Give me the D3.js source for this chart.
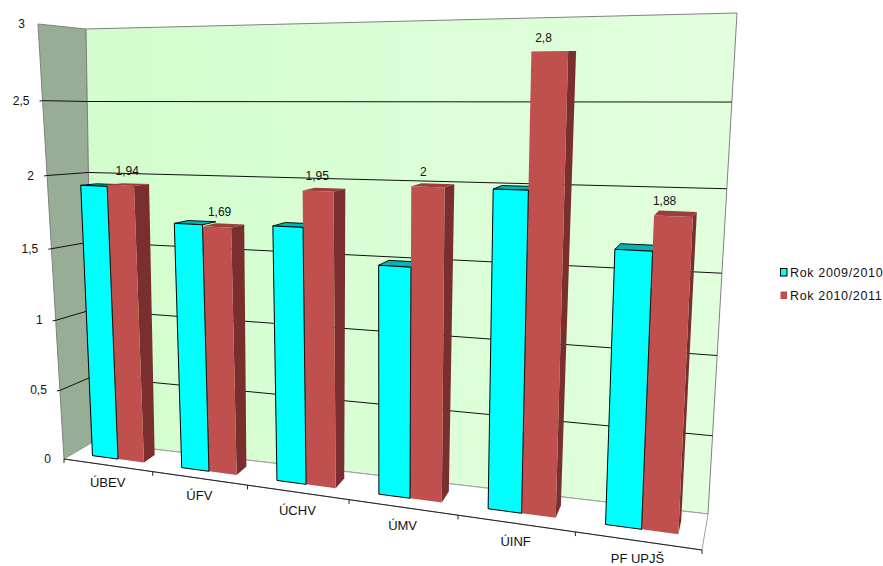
<!DOCTYPE html>
<html><head><meta charset="utf-8">
<script src="https://cdn.jsdelivr.net/npm/d3@7/dist/d3.min.js"></script>
<style>html,body{margin:0;padding:0;background:#fff}svg{display:block}text{font-family:"Liberation Sans",Arial,sans-serif;fill:#111}</style>
</head><body><svg id="c" width="883" height="566"></svg>
<script>
const categories = ["ÚBEV","ÚFV","ÚCHV","ÚMV","ÚINF","PF UPJŠ"];
const seriesNames = ["Rok 2009/2010","Rok 2010/2011"];
const values2009 = [1.93,1.70,1.715,1.5,2.0,1.675];
const values2010 = [1.94,1.69,1.95,2,2.8,1.88];
const labels2010 = ["1,94","1,69","1,95","2","2,8","1,88"];
const yTicks = [0,0.5,1,1.5,2,2.5,3];
const yTickLabels = ["0","0,5","1","1,5","2","2,5","3"];

// camera calibration: unit cube corners -> screen
const calib = [[0,0,0,64,459],[1,0,0,702,550],[0,1,0,38,24],[0,0,1,93,442],[0,1,1,86,29],[1,0,1,708,514],[1,1,1,737,13]];
function solveCamera(pts){
  const R=[],b=[];
  for(const [X,Y,Z,u0,v0] of pts){const u=u0/500,v=v0/500;
    R.push([X,Y,Z,1,0,0,0,0,-u*X,-u*Y,-u*Z]);b.push(u);
    R.push([0,0,0,0,X,Y,Z,1,-v*X,-v*Y,-v*Z]);b.push(v);}
  const n=11,M=d3.range(n).map(i=>d3.range(n+1).map(j=>{
    let s=0;R.forEach((r,k)=>{s+=r[i]*(j<n?r[j]:b[k]);});return s;}));
  for(let i=0;i<n;i++){let p=i;for(let k=i+1;k<n;k++)if(Math.abs(M[k][i])>Math.abs(M[p][i]))p=k;
    [M[i],M[p]]=[M[p],M[i]];
    for(let k=0;k<n;k++)if(k!==i){const f=M[k][i]/M[i][i];for(let j=i;j<=n;j++)M[k][j]-=f*M[i][j];}}
  return M.map((r,i)=>r[n]/r[i]);
}
const P=solveCamera(calib);
const rawProj=(X,Y,Z)=>{const w=P[8]*X+P[9]*Y+P[10]*Z+1;
  return [500*(P[0]*X+P[1]*Y+P[2]*Z+P[3])/w,500*(P[4]*X+P[5]*Y+P[6]*Z+P[7])/w];};
// residual of the fit at each calibrated corner, blended across the cube
const resid=new Map(calib.map(([X,Y,Z,u,v])=>{const p=rawProj(X,Y,Z);return [`${X}${Y}${Z}`,[u-p[0],v-p[1]]];}));
const r=k=>resid.get(k);
resid.set("110",[r("100")[0]+r("010")[0]-r("000")[0],r("100")[1]+r("010")[1]-r("000")[1]]);
const proj=(X,Y,Z)=>{
  const p=rawProj(X,Y,Z);let dx=0,dy=0;
  for(const a of [0,1])for(const b of [0,1])for(const c of [0,1]){
    const w=(a?X:1-X)*(b?Y:1-Y)*(c?Z:1-Z),e=r(`${a}${b}${c}`);dx+=w*e[0];dy+=w*e[1];}
  return [p[0]+dx,p[1]+dy];
};

const xBand=d3.scaleBand().domain(categories).range([0,1]);
const xSeries=d3.scaleBand().domain(seriesNames).range([0.215,0.8]);
const yVal=d3.scaleLinear().domain([0,3]).range([0,1]);
const depth=d3.scaleLinear().domain([0,1]).range([0.33,0.72]);
const labelDrift=d3.scaleLinear().domain([0,0.6,1]).range([2,-9,-11]);
const svg=d3.select("#c");
const line=d3.line();
const poly=(pts)=>line(pts)+"Z";

const defs=svg.append("defs");
const g=defs.append("linearGradient").attr("id","wall").attr("x1",0).attr("x2",1).attr("y1",0).attr("y2",0);
g.append("stop").attr("offset",0).attr("stop-color","#d3fdce");
g.append("stop").attr("offset",1).attr("stop-color","#e2ffdd");

// walls
svg.append("path").attr("d",poly([proj(0,0,0),proj(0,1,0),proj(0,1,1),proj(0,0,1)])).attr("fill","#98ad96").attr("stroke","#808080");
svg.append("path").attr("d",poly([proj(0,0,1),proj(0,1,1),proj(1,1,1),proj(1,0,1)])).attr("fill","url(#wall)").attr("stroke","#808080");
svg.append("path").attr("d",poly([proj(0,0,0),proj(0,0,1),proj(1,0,1),proj(1,0,0)])).attr("fill","#fff").attr("stroke","#a0a0a0");

// gridlines
yTicks.forEach((t,i)=>{
  const y=yVal(t);
  if(t>0&&t<3){
    const a=proj(0,y,0);
    svg.append("path").attr("d",line([[a[0]-3,a[1]+0.5],a,proj(0,y,1),proj(1,y,1)])).attr("fill","none").attr("stroke","#111").attr("stroke-width",1);
  }
  const a=proj(0,y,0);
  svg.append("text").attr("x",a[0]-13).attr("y",a[1]+4).attr("text-anchor","end").attr("font-size",12).text(yTickLabels[i]);
});
// front axis
svg.append("path").attr("d",line([proj(0,0,0),proj(1,0,0)])).attr("fill","none").attr("stroke","#222").attr("stroke-width",1);
categories.forEach((c,i)=>{
  const x=xBand(c)+xBand.bandwidth();
  const a=proj(x,0,0);
  svg.append("path").attr("d",line([a,[a[0],a[1]+4]])).attr("fill","none").attr("stroke","#222");
  const m=proj(xBand(c)+xBand.bandwidth()/2,0,0);
  svg.append("text").attr("x",m[0]).attr("y",m[1]+22).attr("text-anchor","middle").attr("font-size",13).text(c);
});
const a0=proj(0,0,0);
svg.append("path").attr("d",line([a0,[a0[0],a0[1]+4]])).attr("fill","none").attr("stroke","#222");

function box(cat,s,val){
  const b=xBand.bandwidth();
  const x0=xBand(cat)+xSeries(s)*b, x1=x0+xSeries.bandwidth()*b;
  const z0=depth(0),z1=depth(1),y=yVal(val);
  return {front:[proj(x0,0,z0),proj(x0,y,z0),proj(x1,y,z0),proj(x1,0,z0)],
    top:[proj(x0,y,z0),proj(x0,y,z1),proj(x1,y,z1),proj(x1,y,z0)],
    side:[proj(x1,0,z0),proj(x1,y,z0),proj(x1,y,z1),proj(x1,0,z1)]};
}
const face=(pts,fill,stroke)=>svg.append("path").attr("d",poly(pts)).attr("fill",fill).attr("stroke",stroke||"none").attr("stroke-linejoin","round");
categories.forEach((c,i)=>{
  const bl=box(c,seriesNames[0],values2009[i]), rd=box(c,seriesNames[1],values2010[i]);
  face(bl.top,"#00b5b5","#111");
  face(rd.top,"#9a3f3c");
  face(rd.side,"#7a2f2e");
  face(rd.front,"#c0504d");
  face(bl.front,"#00ffff","#000");
});
// value labels
categories.forEach((c,i)=>{
  const b=xBand.bandwidth();
  const xc=xBand(c)+xSeries(seriesNames[1])*b+xSeries.bandwidth()*b/2;
  const p=proj(xc,yVal(values2010[i]),0.5);
  svg.append("text").attr("x",p[0]+labelDrift(xc)).attr("y",p[1]-9.5).attr("text-anchor","middle").attr("font-size",12).text(labels2010[i]);
});
// legend
const lg=svg.append("g");
const colors=["#00ffff","#c0504d"],lgY=d3.scalePoint().domain(seriesNames).range([272,295]);
seriesNames.forEach((s,i)=>{
  lg.append("rect").attr("x",780.5).attr("y",lgY(s)-3.5).attr("width",6.5).attr("height",7.5).attr("fill",colors[i]).attr("stroke",i?"none":"#000");
  lg.append("text").attr("x",790).attr("y",lgY(s)+4.5).attr("font-size",12.5).attr("letter-spacing",0.65).text(s);
});
</script></body></html>
